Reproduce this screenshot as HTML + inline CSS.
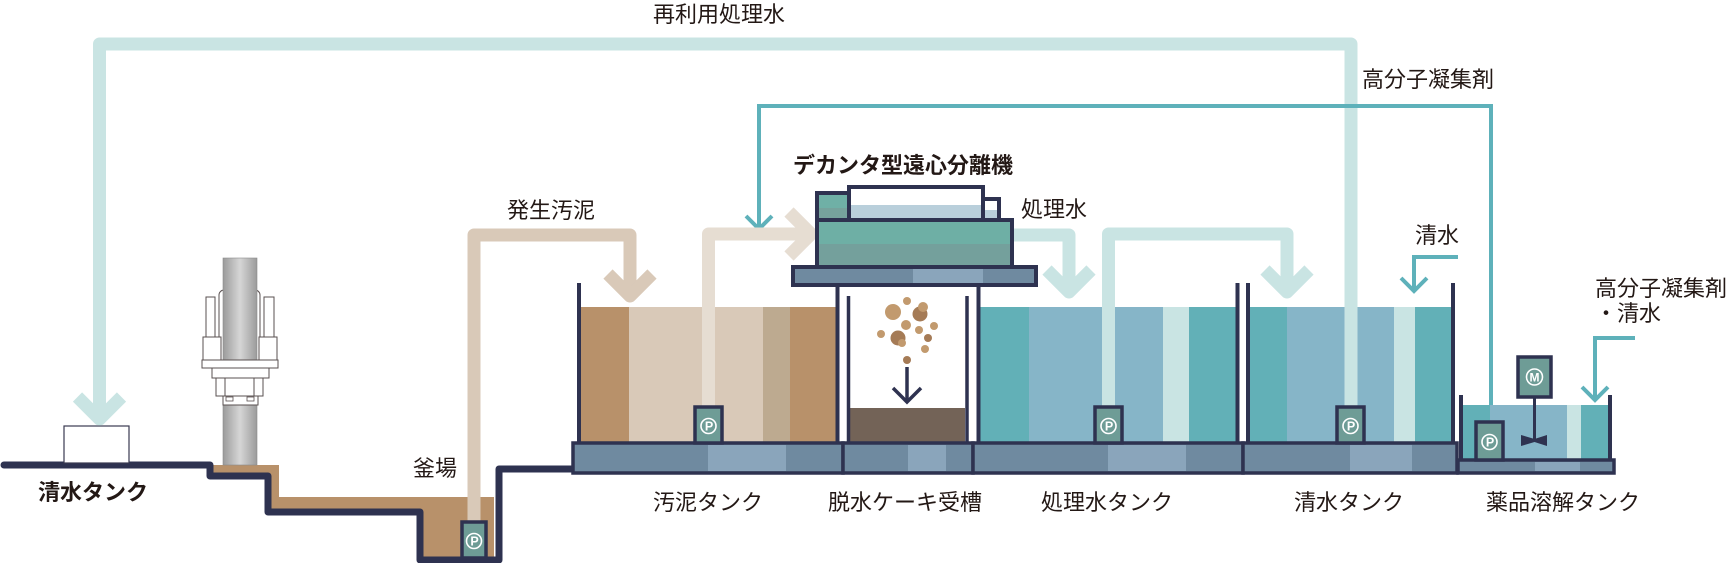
<!DOCTYPE html>
<html><head><meta charset="utf-8">
<style>
html,body{margin:0;padding:0;background:#fff;}
svg{display:block;}
text{font-family:"Liberation Sans","Noto Sans CJK JP",sans-serif;fill:#231815;font-size:22px;}
.b{font-weight:bold;}
</style></head>
<body>
<svg width="1732" height="563" viewBox="0 0 1732 563" xmlns="http://www.w3.org/2000/svg">
<defs>
<linearGradient id="pile" x1="0" x2="1" y1="0" y2="0">
<stop offset="0" stop-color="#9b9b9b"/><stop offset="0.5" stop-color="#d6d6d6"/><stop offset="1" stop-color="#9b9b9b"/>
</linearGradient>
</defs>

<!-- ground brown fill -->
<polygon points="210,465 279,465 279,497 494,497 494,560 420,560 420,512 268,512 268,476 210,476" fill="#b8916a"/>

<!-- pile -->
<rect x="219" y="290" width="41" height="72" rx="5" fill="#fff" stroke="#5a5050" stroke-width="1"/>
<rect x="223" y="258" width="34" height="207" fill="url(#pile)" stroke="#8a8a8a" stroke-width="0.6"/>
<rect x="206" y="297" width="9" height="40" fill="#fff" stroke="#5a5050" stroke-width="1"/>
<rect x="264" y="297" width="10" height="40" fill="#fff" stroke="#5a5050" stroke-width="1"/>
<rect x="203" y="337" width="18" height="23" fill="#fff" stroke="#5a5050" stroke-width="1"/>
<rect x="259" y="337" width="18" height="23" fill="#fff" stroke="#5a5050" stroke-width="1"/>
<rect x="202" y="360" width="76" height="8" fill="#fff" stroke="#5a5050" stroke-width="1"/>
<rect x="212" y="368" width="57" height="10" fill="#fff" stroke="#5a5050" stroke-width="1"/>
<rect x="216" y="378" width="47" height="18" fill="#fff" stroke="#5a5050" stroke-width="1"/>
<line x1="225" y1="378" x2="225" y2="396" stroke="#5a5050" stroke-width="1"/>
<line x1="254" y1="378" x2="254" y2="396" stroke="#5a5050" stroke-width="1"/>
<rect x="223" y="396" width="35" height="9" fill="#fff" stroke="#5a5050" stroke-width="1"/>
<rect x="226" y="397" width="7" height="4" fill="#fff" stroke="#5a5050" stroke-width="0.8"/>
<rect x="247" y="397" width="7" height="4" fill="#fff" stroke="#5a5050" stroke-width="0.8"/>

<!-- ground line -->
<path d="M4,465 H210 V476 H268 V512 H420 V560 H499 V469 H575" fill="none" stroke="#2e3250" stroke-width="7" stroke-linejoin="round" stroke-linecap="round"/>

<!-- left clean tank box -->
<rect x="64" y="426" width="65" height="37" fill="#fff" stroke="#3a3a50" stroke-width="1.2"/>

<!-- sludge tank liquid -->
<rect x="581" y="307" width="48" height="136" fill="#b8916a"/>
<rect x="629" y="307" width="134" height="136" fill="#d9c9b8"/>
<rect x="763" y="307" width="27" height="136" fill="#bdaa90"/>
<rect x="790" y="307" width="47" height="136" fill="#b8916a"/>

<!-- cake tank -->
<rect x="850" y="408" width="115" height="35" fill="#736357"/>

<!-- treated water tank liquid -->
<rect x="980" y="307" width="49" height="136" fill="#62b0b7"/>
<rect x="1029" y="307" width="134" height="136" fill="#86b5c8"/>
<rect x="1163" y="307" width="26" height="136" fill="#c9e4e3"/>
<rect x="1189" y="307" width="47" height="136" fill="#62b0b7"/>

<!-- clean water tank liquid -->
<rect x="1250" y="307" width="37" height="136" fill="#62b0b7"/>
<rect x="1287" y="307" width="107" height="136" fill="#86b5c8"/>
<rect x="1394" y="307" width="21" height="136" fill="#c9e4e3"/>
<rect x="1415" y="307" width="37" height="136" fill="#62b0b7"/>

<!-- chem tank liquid -->
<rect x="1463" y="405" width="27" height="55" fill="#62b0b7"/>
<rect x="1490" y="405" width="77" height="55" fill="#86b5c8"/>
<rect x="1567" y="405" width="14" height="55" fill="#c9e4e3"/>
<rect x="1581" y="405" width="28" height="55" fill="#62b0b7"/>

<!-- reuse pipe (light cyan) -->
<path d="M99.5,419 V44 H1351 V407" fill="none" stroke="#c9e4e3" stroke-width="13" stroke-linejoin="round"/>
<path d="M77.5,397 L99.5,419 L121.5,397" fill="none" stroke="#c9e4e3" stroke-width="13" stroke-linejoin="round"/>

<!-- teal chemical line -->
<path d="M759,228 V106 H1491 V405" fill="none" stroke="#5eb1ba" stroke-width="4"/>
<path d="M746,216 L759,229 L772,216" fill="none" stroke="#5eb1ba" stroke-width="4"/>
<!-- 清水 teal -->
<path d="M1458,257 H1414 V290" fill="none" stroke="#5eb1ba" stroke-width="4"/>
<path d="M1401,278 L1414,291 L1427,278" fill="none" stroke="#5eb1ba" stroke-width="4"/>
<!-- right teal -->
<path d="M1635,338 H1595 V400" fill="none" stroke="#5eb1ba" stroke-width="4"/>
<path d="M1582,387 L1595,400 L1608,387" fill="none" stroke="#5eb1ba" stroke-width="4"/>

<!-- sludge pipe from sump -->
<path d="M474,523 V235 H630 V296" fill="none" stroke="#d9c9b8" stroke-width="13" stroke-linejoin="round"/>
<path d="M608,274 L630,296 L652,274" fill="none" stroke="#d9c9b8" stroke-width="13" stroke-linejoin="round"/>

<!-- sludge pipe to decanter -->
<path d="M708.5,407 V234 H811" fill="none" stroke="#e6ddd2" stroke-width="13" stroke-linejoin="round"/>
<path d="M789,212 L811,234 L789,256" fill="none" stroke="#e6ddd2" stroke-width="13" stroke-linejoin="round"/>

<!-- treated water pipes -->
<path d="M1012,235 H1069 V292" fill="none" stroke="#c9e4e3" stroke-width="13" stroke-linejoin="round"/>
<path d="M1047,270 L1069,292 L1091,270" fill="none" stroke="#c9e4e3" stroke-width="13" stroke-linejoin="round"/>
<path d="M1108.5,407 V234 H1287 V292" fill="none" stroke="#c9e4e3" stroke-width="13" stroke-linejoin="round"/>
<path d="M1265,270 L1287,292 L1309,270" fill="none" stroke="#c9e4e3" stroke-width="13" stroke-linejoin="round"/>

<!-- particles -->
<g>
<circle cx="893" cy="312" r="8" fill="#c29a6e"/>
<circle cx="907" cy="301" r="4" fill="#c29a6e"/>
<circle cx="920" cy="314" r="7.5" fill="#a57b56"/>
<circle cx="923" cy="307" r="5" fill="#c29a6e"/>
<circle cx="906" cy="325" r="5" fill="#c29a6e"/>
<circle cx="934" cy="326" r="4" fill="#c29a6e"/>
<circle cx="881" cy="334" r="4" fill="#c29a6e"/>
<circle cx="919" cy="330" r="4" fill="#c29a6e"/>
<circle cx="898" cy="338" r="7.5" fill="#a57b56"/>
<circle cx="902" cy="343" r="4" fill="#c29a6e"/>
<circle cx="928" cy="338" r="4" fill="#a57b56"/>
<circle cx="925" cy="349" r="4" fill="#c29a6e"/>
<circle cx="907" cy="360" r="4" fill="#a57b56"/>
</g>
<path d="M907,367 V402" stroke="#2e3250" stroke-width="3.5" fill="none"/>
<path d="M893,388 L907,402 L921,388" stroke="#2e3250" stroke-width="3.5" fill="none"/>

<!-- walls -->
<g stroke="#2e3250" fill="none">
<line x1="579" y1="283" x2="579" y2="445" stroke-width="4"/>
<line x1="837.5" y1="284" x2="837.5" y2="445" stroke-width="4"/>
<line x1="978.5" y1="284" x2="978.5" y2="445" stroke-width="4"/>
<line x1="848.5" y1="296" x2="848.5" y2="445" stroke-width="3.5"/>
<line x1="967" y1="296" x2="967" y2="445" stroke-width="3.5"/>
<line x1="1237.5" y1="283" x2="1237.5" y2="445" stroke-width="4"/>
<line x1="1248" y1="283" x2="1248" y2="445" stroke-width="4"/>
<line x1="1453" y1="283" x2="1453" y2="445" stroke-width="4"/>
<line x1="1461" y1="395" x2="1461" y2="461" stroke-width="4"/>
<line x1="1610" y1="395" x2="1610" y2="461" stroke-width="4"/>
</g>

<!-- bases -->
<g stroke="#2e3250" stroke-width="3.5">
<rect x="573" y="443" width="270" height="30" fill="#6f8aa0"/>
<rect x="708" y="445" width="78" height="26" fill="#8aa5bb" stroke="none"/>
<rect x="843" y="443" width="130" height="30" fill="#6f8aa0"/>
<rect x="908" y="445" width="38" height="26" fill="#8aa5bb" stroke="none"/>
<rect x="973" y="443" width="270" height="30" fill="#6f8aa0"/>
<rect x="1108" y="445" width="78" height="26" fill="#8aa5bb" stroke="none"/>
<rect x="1243" y="443" width="214" height="30" fill="#6f8aa0"/>
<rect x="1350" y="445" width="62" height="26" fill="#8aa5bb" stroke="none"/>
<rect x="1458" y="460" width="156" height="13" fill="#6f8aa0"/>
<rect x="1535" y="462" width="45" height="9" fill="#8aa5bb" stroke="none"/>
</g>

<!-- pumps -->
<g stroke="#2e3250" stroke-width="3.5" fill="#6e9c96">
<rect x="462" y="522" width="24" height="36"/>
<rect x="695" y="407" width="27" height="36"/>
<rect x="1095" y="407" width="27" height="36"/>
<rect x="1337" y="407" width="27" height="36"/>
<rect x="1476" y="422" width="27" height="38"/>
<rect x="1518" y="357" width="33" height="40"/>
</g>
<g fill="none" stroke="#fff" stroke-width="1.6">
<circle cx="474" cy="541" r="7.5"/>
<circle cx="708.5" cy="426" r="7.5"/>
<circle cx="1108.5" cy="426" r="7.5"/>
<circle cx="1350.5" cy="426" r="7.5"/>
<circle cx="1489.5" cy="442" r="7.5"/>
<circle cx="1534.5" cy="377" r="8"/>
</g>
<g text-anchor="middle">
<text x="474.5" y="545.5" style="fill:#fff;font-size:12.5px;font-weight:bold">P</text>
<text x="709" y="430.5" style="fill:#fff;font-size:12.5px;font-weight:bold">P</text>
<text x="1109" y="430.5" style="fill:#fff;font-size:12.5px;font-weight:bold">P</text>
<text x="1351" y="430.5" style="fill:#fff;font-size:12.5px;font-weight:bold">P</text>
<text x="1490" y="446.5" style="fill:#fff;font-size:12.5px;font-weight:bold">P</text>
<text x="1534.5" y="381.5" style="fill:#fff;font-size:12px;font-weight:bold">M</text>
</g>
<!-- mixer -->
<line x1="1534.5" y1="397" x2="1534.5" y2="440" stroke="#2e3250" stroke-width="3"/>
<polygon points="1521,435 1534.5,439 1547,435 1547,446 1534.5,442 1521,446" fill="#2e3250"/>

<!-- decanter -->
<g stroke="#2e3250" stroke-width="4">
<rect x="817" y="193" width="34" height="28" fill="#6fb0a6"/>
<rect x="819" y="208" width="30" height="11" fill="#76a29c" stroke="none"/>
<rect x="849" y="187" width="134" height="34" fill="#fff"/>
<rect x="851" y="205" width="130" height="14" fill="#b9cfdb" stroke="none"/>
<rect x="983" y="199" width="16" height="22" fill="#fff"/>
<rect x="985" y="210" width="12" height="9" fill="#b9cfdb" stroke="none"/>
<rect x="817" y="220" width="195" height="47" fill="#6eafa5"/>
<rect x="819" y="244" width="191" height="21" fill="#74a09c" stroke="none"/>
<rect x="793" y="267" width="243" height="18" fill="#6f8aa0"/>
<rect x="913" y="269" width="70" height="14" fill="#8aa5bb" stroke="none"/>
</g>

<!-- labels -->
<text x="653" y="22">再利用処理水</text>
<text x="1362" y="87">高分子凝集剤</text>
<text x="793" y="173" class="b">デカンタ型遠心分離機</text>
<text x="507" y="218">発生汚泥</text>
<text x="1021" y="217">処理水</text>
<text x="1415" y="243">清水</text>
<text x="1595" y="296">高分子凝集剤</text>
<text x="1595" y="321">・清水</text>
<text x="413" y="476">釜場</text>
<text x="38" y="500" class="b">清水タンク</text>
<text x="653" y="510">汚泥タンク</text>
<text x="828" y="510">脱水ケーキ受槽</text>
<text x="1041" y="510">処理水タンク</text>
<text x="1294" y="510">清水タンク</text>
<text x="1486" y="510">薬品溶解タンク</text>
</svg>
</body></html>
